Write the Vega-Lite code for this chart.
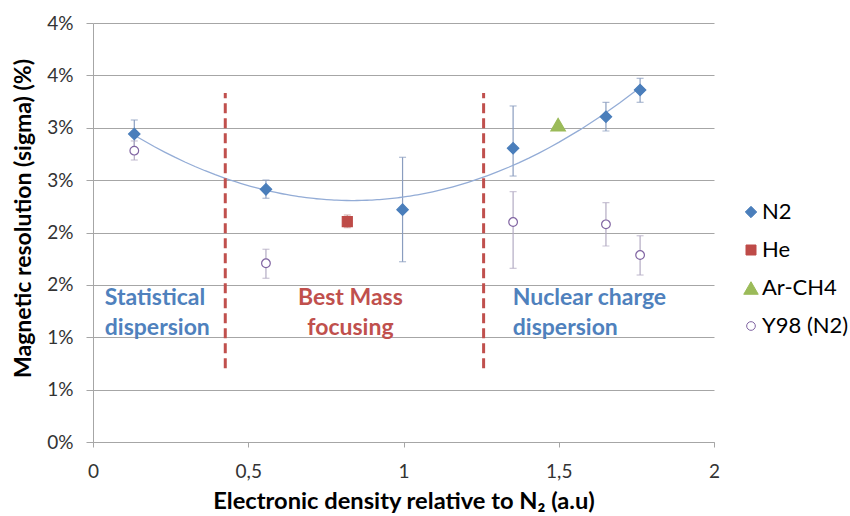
{
  "$schema": "https://vega.github.io/schema/vega-lite/v6.json",
  "width": 621,
  "height": 419,
  "autosize": {"type": "none"},
  "padding": {"left": 93, "top": 23, "right": 136, "bottom": 74},
  "background": "white",
  "config": {"view": {"stroke": null}, "font": "Lato"},
  "datasets": {
    "pts": [
      {"series": "N2", "x": 0.133, "y": 2.94, "lo": 2.807, "hi": 3.074},
      {"series": "N2", "x": 0.557, "y": 2.412, "lo": 2.327, "hi": 2.501},
      {"series": "N2", "x": 0.997, "y": 2.218, "lo": 1.721, "hi": 2.718},
      {"series": "N2", "x": 1.353, "y": 2.804, "lo": 2.539, "hi": 3.208},
      {"series": "N2", "x": 1.652, "y": 3.105, "lo": 2.969, "hi": 3.243},
      {"series": "N2", "x": 1.762, "y": 3.36, "lo": 3.243, "hi": 3.472},
      {"series": "He", "x": 0.819, "y": 2.103, "lo": 2.046, "hi": 2.167},
      {"series": "Ar-CH4", "x": 1.498, "y": 3.03},
      {"series": "Y98 (N2)", "x": 0.133, "y": 2.781, "lo": 2.692, "hi": 2.874},
      {"series": "Y98 (N2)", "x": 0.557, "y": 1.706, "lo": 1.563, "hi": 1.84},
      {"series": "Y98 (N2)", "x": 1.353, "y": 2.1, "lo": 1.658, "hi": 2.39},
      {"series": "Y98 (N2)", "x": 1.652, "y": 2.078, "lo": 1.871, "hi": 2.285},
      {"series": "Y98 (N2)", "x": 1.762, "y": 1.785, "lo": 1.594, "hi": 1.969}
    ],
    "vlines": [
      {"x": 0.426, "y": 0.704, "y2": 3.332},
      {"x": 1.258, "y": 0.704, "y2": 3.332}
    ],
    "notes": [
      {"text": "Statistical", "x": 0.038, "y": 1.375, "pos": "left"},
      {"text": "dispersion", "x": 0.038, "y": 1.088, "pos": "left"},
      {"text": "Best Mass", "x": 0.829, "y": 1.375, "pos": "center"},
      {"text": "focusing", "x": 0.829, "y": 1.088, "pos": "center"},
      {"text": "Nuclear charge", "x": 1.352, "y": 1.375, "pos": "left"},
      {"text": "dispersion", "x": 1.352, "y": 1.088, "pos": "left"}
    ]
  },
  "layer": [
    {
      "data": {"name": "pts"},
      "transform": [{"filter": "isValid(datum.lo)"}],
      "mark": {"type": "rule", "strokeWidth": 1.2},
      "encoding": {
        "x": {
          "field": "x", "type": "quantitative",
          "scale": {"domain": [0, 2], "nice": false, "zero": false},
          "axis": {
            "title": "Electronic density relative to N₂ (a.u)",
            "values": [0, 0.5, 1, 1.5, 2],
            "labelExpr": "replace('' + datum.value, '.', ',')",
            "grid": false,
            "domainColor": "#a6a6a6",
            "tickColor": "#a6a6a6",
            "tickSize": 5,
            "labelFontSize": 19,
            "labelColor": "#333333",
            "labelPadding": 15,
            "labelFlush": false,
            "titleFontSize": 23.7,
            "titleFontWeight": "bold",
            "titleColor": "#000000",
            "titleX": 310.5,
            "titleY": 66,
            "titleBaseline": "alphabetic"
          }
        },
        "y": {
          "field": "lo", "type": "quantitative",
          "scale": {"domain": [0, 4], "nice": false, "zero": false},
          "axis": {
            "title": "Magnetic resolution (sigma) (%)",
            "values": [0, 0.5, 1, 1.5, 2, 2.5, 3, 3.5, 4],
            "labelExpr": "round(datum.value) + '%'",
            "grid": true,
            "gridColor": "#a6a6a6",
            "domainColor": "#a6a6a6",
            "tickColor": "#a6a6a6",
            "tickSize": 7,
            "labelFontSize": 19,
            "labelColor": "#333333",
            "labelPadding": 13,
            "labelFlush": false,
            "titleFontSize": 23,
            "titleFontWeight": "bold",
            "titleColor": "#000000",
            "titleAngle": -90,
            "titleX": -70,
            "titleY": 195,
            "titleAlign": "center",
            "titleBaseline": "middle"
          }
        },
        "y2": {"field": "hi"},
        "color": {
          "condition": [
            {"test": "datum.series === 'N2'", "value": "#8a9dbf"},
            {"test": "datum.series === 'He'", "value": "#c89a98"}
          ],
          "value": "#b3abc3"
        }
      }
    },
    {
      "data": {"name": "pts"},
      "transform": [{"filter": "isValid(datum.lo)"}, {"fold": ["lo", "hi"], "as": ["end", "val"]}],
      "mark": {"type": "tick", "orient": "horizontal", "size": 7, "thickness": 1.2},
      "encoding": {
        "x": {"field": "x", "type": "quantitative"},
        "y": {"field": "val", "type": "quantitative"},
        "color": {
          "condition": [
            {"test": "datum.series === 'N2'", "value": "#8a9dbf"},
            {"test": "datum.series === 'He'", "value": "#c89a98"}
          ],
          "value": "#b3abc3"
        }
      }
    },
    {
      "data": {"name": "pts"},
      "transform": [
        {"filter": "datum.series === 'N2'"},
        {"regression": "y", "on": "x", "method": "poly", "order": 2, "extent": [0.133, 1.762]}
      ],
      "mark": {"type": "line", "color": "#93acd6", "strokeWidth": 1.3},
      "encoding": {
        "x": {"field": "x", "type": "quantitative"},
        "y": {"field": "y", "type": "quantitative"}
      }
    },
    {
      "data": {"name": "vlines"},
      "mark": {"type": "rule", "color": "#c0504d", "strokeWidth": 3, "strokeDash": [10, 5]},
      "encoding": {
        "x": {"field": "x", "type": "quantitative"},
        "y": {"field": "y", "type": "quantitative"},
        "y2": {"field": "y2"}
      }
    },
    {
      "data": {"name": "pts"},
      "mark": {"type": "point", "opacity": 1, "strokeWidth": 1.2},
      "encoding": {
        "x": {"field": "x", "type": "quantitative"},
        "y": {"field": "y", "type": "quantitative"},
        "color": {
          "field": "series", "type": "nominal",
          "scale": {"domain": ["N2", "He", "Ar-CH4", "Y98 (N2)"], "range": ["#4a7ebb", "#be4b48", "#9bbb59", "#8064a2"]},
          "legend": {
            "title": null,
            "orient": "none",
            "legendX": 647,
            "legendY": 178,
            "labelFontSize": 22,
            "labelColor": "#000000",
            "labelOffset": 0,
            "labelLimit": 300,
            "rowPadding": 16,
            "symbolStrokeWidth": 1
          }
        },
        "fill": {
          "field": "series", "type": "nominal",
          "scale": {"domain": ["N2", "He", "Ar-CH4", "Y98 (N2)"], "range": ["#4a7ebb", "#be4b48", "#9bbb59", "#ffffff"]},
          "legend": {"title": null}
        },
        "shape": {
          "field": "series", "type": "nominal",
          "scale": {"domain": ["N2", "He", "Ar-CH4", "Y98 (N2)"], "range": ["diamond", "square", "triangle-up", "circle"]},
          "legend": {"title": null}
        },
        "size": {
          "field": "series", "type": "nominal",
          "scale": {"type": "ordinal", "domain": ["N2", "He", "Ar-CH4", "Y98 (N2)"], "range": [130, 100, 210, 75]},
          "legend": {"title": null}
        }
      }
    },
    {
      "data": {"name": "notes"},
      "transform": [{"filter": "datum.pos === 'left'"}],
      "mark": {"type": "text", "align": "left", "baseline": "middle", "fontSize": 23, "fontWeight": "bold", "color": "#4f81bd"},
      "encoding": {
        "x": {"field": "x", "type": "quantitative"},
        "y": {"field": "y", "type": "quantitative"},
        "text": {"field": "text"}
      }
    },
    {
      "data": {"name": "notes"},
      "transform": [{"filter": "datum.pos === 'center'"}],
      "mark": {"type": "text", "align": "center", "baseline": "middle", "fontSize": 23, "fontWeight": "bold", "color": "#c0504d"},
      "encoding": {
        "x": {"field": "x", "type": "quantitative"},
        "y": {"field": "y", "type": "quantitative"},
        "text": {"field": "text"}
      }
    }
  ]
}
